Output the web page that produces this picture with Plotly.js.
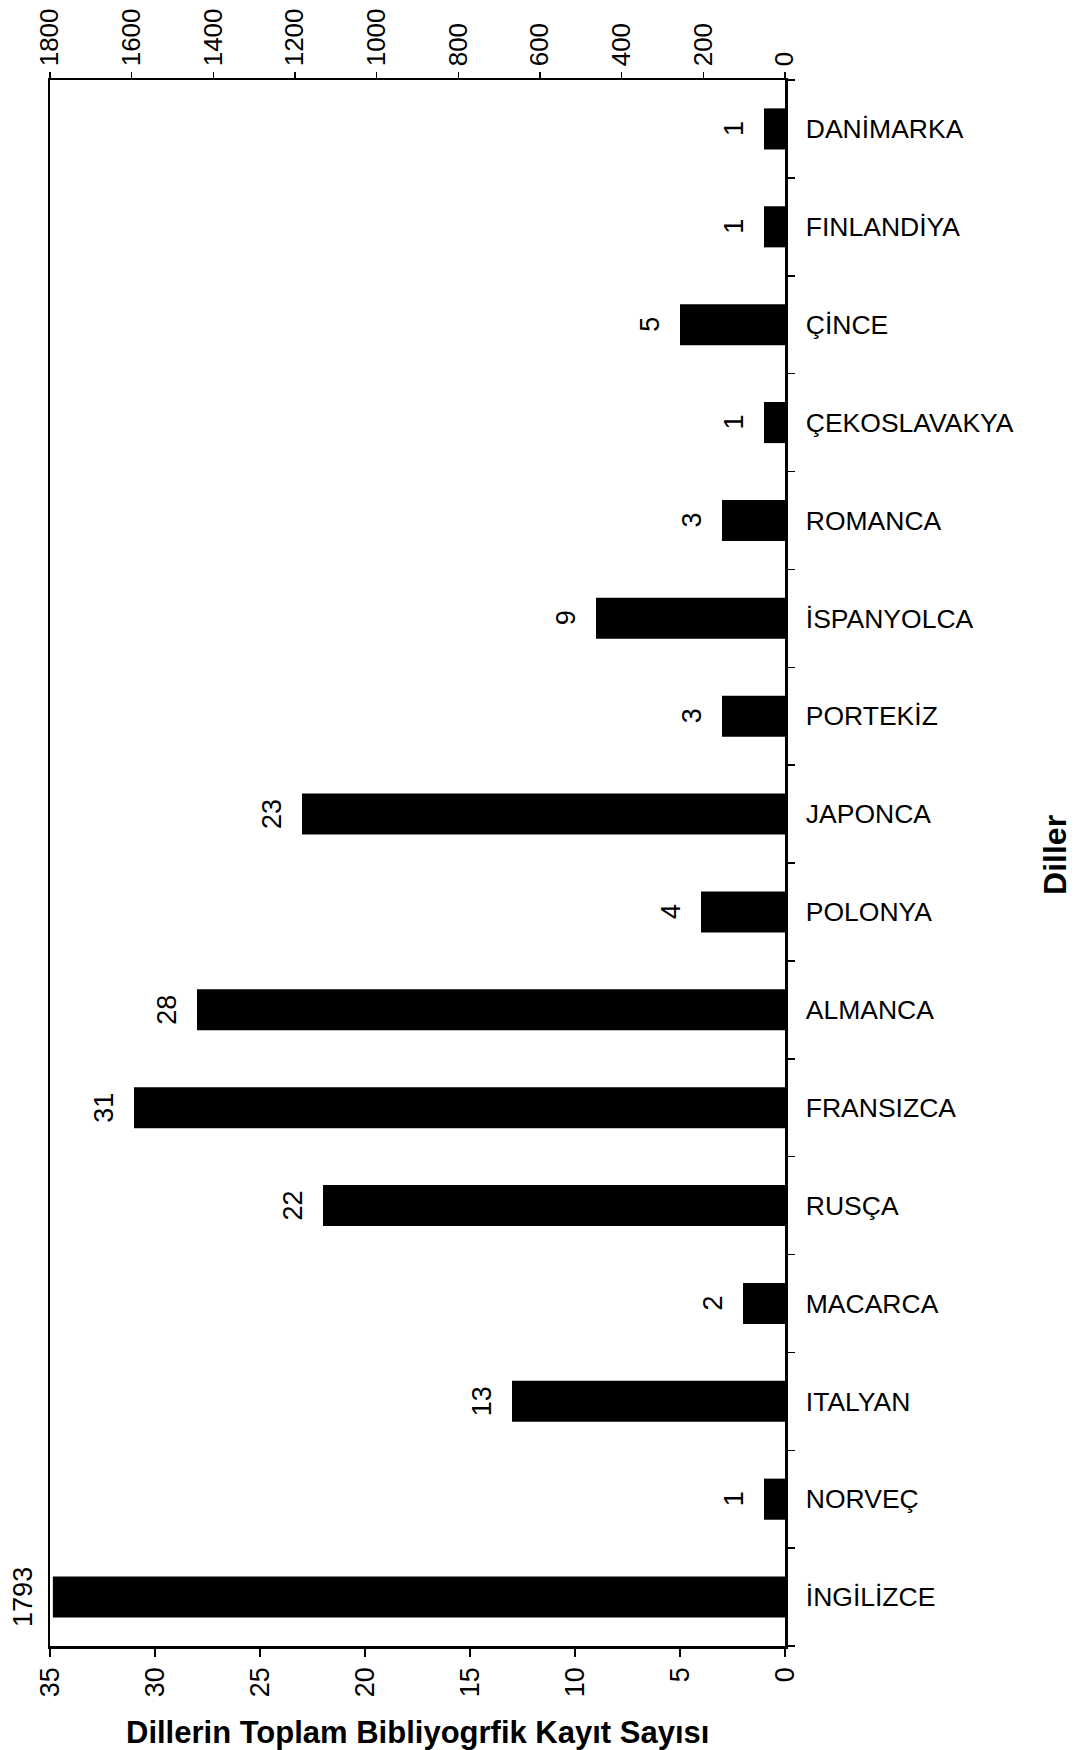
<!DOCTYPE html>
<html><head><meta charset="utf-8">
<script src="https://cdn.plot.ly/plotly-3.0.1.min.js"></script>
<style>body{margin:0;background:#fff}</style>
</head><body><div id="chart" style="width:1076px;height:1750px"></div>
<script>
const categories = ["İNGİLİZCE","NORVEÇ","ITALYAN","MACARCA","RUSÇA","FRANSIZCA","ALMANCA","POLONYA","JAPONCA","PORTEKİZ","İSPANYOLCA","ROMANCA","ÇEKOSLAVAKYA","ÇİNCE","FINLANDİYA","DANİMARKA"];
const otherLangs = ["NORVEÇ","ITALYAN","MACARCA","RUSÇA","FRANSIZCA","ALMANCA","POLONYA","JAPONCA","PORTEKİZ","İSPANYOLCA","ROMANCA","ÇEKOSLAVAKYA","ÇİNCE","FINLANDİYA","DANİMARKA"];
const otherCounts = [1,13,2,22,31,28,4,23,3,9,3,1,5,1,1];
const englishLang = ["İNGİLİZCE"];
const englishCount = [1793];
const bottomTicks = [0,5,10,15,20,25,30,35];
const topTicks = [0,200,400,600,800,1000,1200,1400,1600,1800];
const xTitle = "Dillerin Toplam Bibliyogrfik Kayıt Sayısı";
const yTitle = "Diller";

const FONT = "Liberation Sans, Arial, sans-serif";

const traces = [
  {type:'bar', orientation:'h', x: otherCounts, y: otherLangs, xaxis:'x', yaxis:'y',
   marker:{color:'#000'}, width:0.42, hoverinfo:'none'},
  {type:'bar', orientation:'h', x: englishCount, y: englishLang, xaxis:'x2', yaxis:'y',
   marker:{color:'#000'}, width:0.42, hoverinfo:'none'}
];

const annotations = [];
otherLangs.forEach((c,i)=>{
  annotations.push({x: otherCounts[i], y: c, xref:'x', yref:'y', text: String(otherCounts[i]),
    textangle:-90, showarrow:false, xanchor:'center', yanchor:'middle', xshift:-30,
    font:{family:FONT, size:27, color:'#000'}});
});
englishLang.forEach((c,i)=>{
  annotations.push({x: englishCount[i], y: c, xref:'x2', yref:'y', text: String(englishCount[i]),
    textangle:-90, showarrow:false, xanchor:'center', yanchor:'middle', xshift:-30,
    font:{family:FONT, size:27, color:'#000'}});
});
annotations.push({xref:'paper', yref:'paper', x:0.5, y:-0.0555, text:'<b>'+xTitle+'</b>',
  showarrow:false, xanchor:'center', yanchor:'middle', font:{family:FONT, size:31, color:'#000'}});
annotations.push({xref:'paper', yref:'paper', x:1.367, y:0.505, text:'<b>'+yTitle+'</b>',
  textangle:-90, showarrow:false, xanchor:'center', yanchor:'middle', font:{family:FONT, size:32, color:'#000'}});

const layout = {
  width:1076, height:1750,
  margin:{l:50, r:291, t:80, b:104},
  paper_bgcolor:'#fff', plot_bgcolor:'#fff',
  showlegend:false,
  font:{family:FONT, color:'#000'},
  xaxis:{range:[35,0], tickvals:bottomTicks, ticktext:bottomTicks.map(String), tickangle:-90,
    ticks:'outside', ticklen:8, tickwidth:1.5, tickcolor:'#000',
    showline:true, linewidth:2.5, linecolor:'#000', mirror:true,
    showgrid:false, zeroline:false, tickfont:{family:FONT, size:27, color:'#000'}, anchor:'y'},
  xaxis2:{range:[1800,0], overlaying:'x', side:'top', anchor:'y', tickvals:topTicks, ticktext:topTicks.map(String),
    tickangle:-90, ticks:'outside', ticklen:6, tickwidth:1.5, tickcolor:'#000',
    showline:true, linewidth:2.5, linecolor:'#000', showgrid:false, zeroline:false,
    tickfont:{family:FONT, size:26, color:'#000'}},
  yaxis:{type:'category', categoryorder:'array', categoryarray:categories, side:'right',
    range:[-0.5,15.5], tickson:'boundaries', ticks:'outside', ticklen:7, tickwidth:1.5, tickcolor:'#000',
    showline:true, linewidth:2.5, linecolor:'#000', mirror:true, showgrid:false, zeroline:false,
    ticklabelstandoff:13, tickfont:{family:FONT, size:26.5, color:'#000'}, anchor:'x'},
  yaxis2:{overlaying:'y', side:'right', anchor:'x', range:[-0.5,15.5], tick0:-0.5, dtick:1,
    ticks:'inside', ticklen:7, tickwidth:1.5, tickcolor:'#000', showticklabels:false,
    showgrid:false, zeroline:false, showline:false},
  annotations: annotations
};

Plotly.newPlot('chart', traces, layout, {displayModeBar:false, staticPlot:true});
</script></body></html>
